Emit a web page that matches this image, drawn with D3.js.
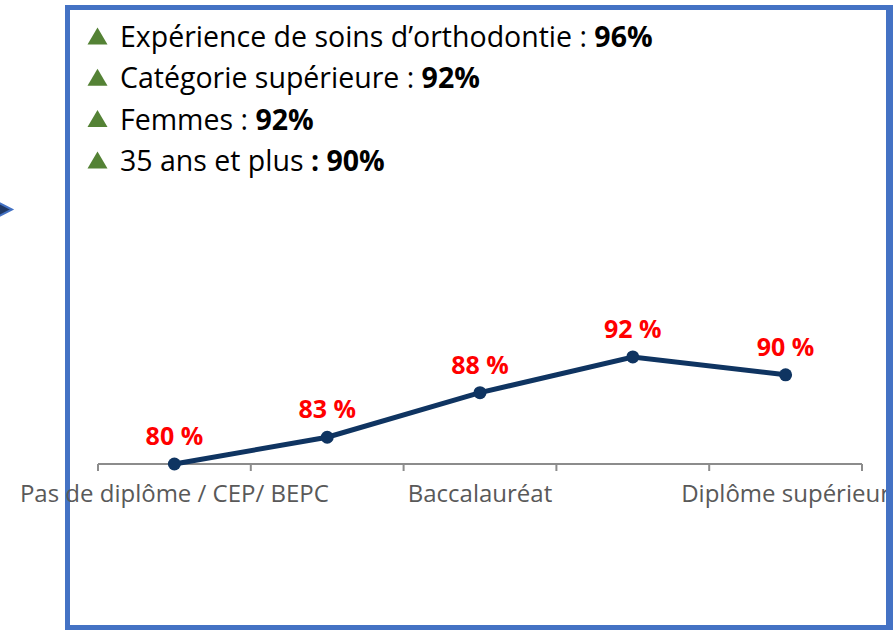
<!DOCTYPE html>
<html lang="fr">
<head>
    <meta charset="UTF-8">
    <title>Orthodontie</title>
    <script src="https://cdn.jsdelivr.net/npm/d3@7"></script>
    <style>
        html, body {
            margin: 0;
            padding: 0;
            width: 100%;
            height: 100%;
            overflow: hidden;
            background: #fff;
        }
        text {
            font-family: 'Open Sans', 'Noto Sans', sans-serif;
        }
        .bullet-text {
            font-size: 28.5px;
            fill: #000;
        }
        .cat-label {
            font-size: 24px;
            fill: #595959;
        }
        .val-label {
            font-size: 25px;
            font-weight: bold;
            fill: #ff0000;
        }
        .axis-line {
            stroke: #8c8c8c;
            stroke-width: 2px;
        }
        .line {
            fill: none;
            stroke: #0f3461;
            stroke-width: 5px;
        }
    </style>
</head>
<body>
</body>
<script>
    // niveaux de diplôme (2e et 4e libellés masqués sur l'axe)
    let categories = ['Pas de diplôme / CEP/ BEPC', 'CAP / BEP', 'Baccalauréat', 'Bac +2', 'Diplôme supérieur'];
    let tickLabels = ['Pas de diplôme / CEP/ BEPC', '', 'Baccalauréat', '', 'Diplôme supérieur'];
    let values = [80, 83, 88, 92, 90];

    let bulletLabels = ['Expérience de soins d’orthodontie : ', 'Catégorie supérieure : ', 'Femmes : ', '35 ans et plus '];
    let bulletValues = ['96%', '92%', '92%', ': 90%'];

    let width = 894;
    let height = 630;

    let svg = d3.select('body').append('svg')
        .attr('width', width)
        .attr('height', height);

    // petite flèche à gauche
    svg.append('polygon')
        .attr('points', '-14,196 12,209.5 -14,223')
        .attr('fill', '#1f3864')
        .attr('stroke', '#4472c4')
        .attr('stroke-width', 2);

    // cadre
    svg.append('rect')
        .attr('x', 67.5)
        .attr('y', 7.5)
        .attr('width', 823)
        .attr('height', 620)
        .attr('fill', '#fff')
        .attr('stroke', '#4472c4')
        .attr('stroke-width', 5);

    let chart = svg.append('g');

    // liste à puces
    let bullets = chart.append('g').selectAll('g')
        .data(bulletLabels).enter()
        .append('g')
        .attr('transform', (d, i) => `translate(0, ${47 + i * 41.3})`);

    bullets.append('polygon')
        .attr('points', '87.5,-2.5 107.5,-2.5 97.5,-19.5')
        .attr('fill', '#548235');

    let bt = bullets.append('text')
        .classed('bullet-text', true)
        .attr('x', 120);
    bt.append('tspan').text(d => d);
    bt.append('tspan')
        .style('font-weight', 'bold')
        .text((d, i) => bulletValues[i]);

    // échelles
    let x = d3.scaleBand()
        .domain(d3.range(categories.length))
        .range([98, 862]);

    let y = d3.scaleLinear()
        .domain([80, 100])
        .range([464, 285.6]);

    // axe des catégories
    let axis = chart.append('g');
    axis.append('line')
        .classed('axis-line', true)
        .attr('x1', x.range()[0])
        .attr('x2', x.range()[1])
        .attr('y1', y(80))
        .attr('y2', y(80));

    let edges = x.domain().map(d => x(d)).concat([x.range()[1]]);
    axis.selectAll('.tick')
        .data(edges).enter()
        .append('line')
        .classed('axis-line', true)
        .attr('x1', d => d)
        .attr('x2', d => d)
        .attr('y1', y(80))
        .attr('y2', y(80) + 7);

    axis.selectAll('.cat-label')
        .data(tickLabels).enter()
        .append('text')
        .classed('cat-label', true)
        .attr('x', (d, i) => x(i) + x.bandwidth() / 2)
        .attr('y', 502)
        .attr('text-anchor', 'middle')
        .text(d => d);

    // courbe
    let line = d3.line()
        .x((d, i) => x(i) + x.bandwidth() / 2)
        .y(d => y(d));

    chart.append('path')
        .datum(values)
        .classed('line', true)
        .attr('d', line);

    chart.selectAll('.dot')
        .data(values).enter()
        .append('circle')
        .attr('cx', (d, i) => x(i) + x.bandwidth() / 2)
        .attr('cy', d => y(d))
        .attr('r', 6.5)
        .attr('fill', '#0f3461');

    chart.selectAll('.val-label')
        .data(values).enter()
        .append('text')
        .classed('val-label', true)
        .attr('x', (d, i) => x(i) + x.bandwidth() / 2)
        .attr('y', d => y(d) - 19)
        .attr('text-anchor', 'middle')
        .text(d => d + ' %');

    // le cadre passe par-dessus le libellé de droite
    svg.append('line')
        .attr('x1', 888.5).attr('x2', 888.5)
        .attr('y1', 5).attr('y2', 630)
        .attr('stroke', '#4472c4')
        .attr('stroke-width', 5);
</script>
</html>
